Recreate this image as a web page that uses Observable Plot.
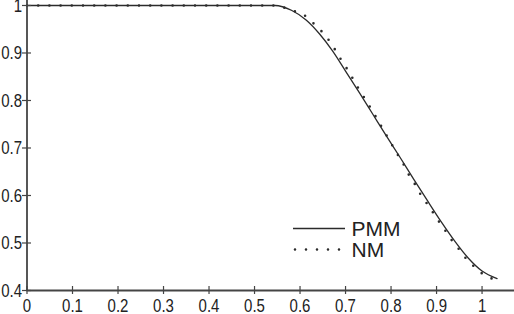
<!DOCTYPE html>
<html>
<head>
<meta charset="utf-8">
<script src="https://cdn.jsdelivr.net/npm/d3@7"></script>
<script src="https://cdn.jsdelivr.net/npm/@observablehq/plot@0.6"></script>
<style>
  html, body { margin: 0; padding: 0; background: #fff; }
  #wrap { position: relative; width: 514px; height: 314px; overflow: hidden; }
  #legend { position: absolute; left: 0; top: 0; pointer-events: none; }
</style>
</head>
<body>
<div id="wrap"></div>
<script>
// Tick values
const xTicks = [0, 0.1, 0.2, 0.3, 0.4, 0.5, 0.6, 0.7, 0.8, 0.9, 1];
const yTicks = [0.4, 0.5, 0.6, 0.7, 0.8, 0.9, 1];

// Series names
const seriesNames = ["PMM", "NM"];

// PMM (solid)
const pmmX = [0, 0.545, 0.581, 0.614, 0.643, 0.671, 0.700, 0.730, 0.760, 0.790, 0.820, 0.850, 0.880, 0.910, 0.940, 0.970, 1.000, 1.033];
const pmmY = [1, 1, 0.990, 0.969, 0.940, 0.905, 0.862, 0.817, 0.771, 0.725, 0.680, 0.634, 0.589, 0.545, 0.504, 0.468, 0.441, 0.425];

// NM (dotted)
const nmX = [0, 0.545, 0.567, 0.591, 0.613, 0.631, 0.648, 0.664, 0.677, 0.690, 0.703, 0.716, 0.728, 0.741, 0.754, 0.767, 0.779, 0.791, 0.803, 0.816, 0.829, 0.840, 0.853, 0.865, 0.879, 0.893, 0.906, 0.920, 0.934, 0.950, 0.965, 0.982, 1.000, 1.022];
const nmY = [1, 1, 0.995, 0.987, 0.977, 0.961, 0.945, 0.926, 0.907, 0.886, 0.867, 0.846, 0.826, 0.806, 0.786, 0.765, 0.745, 0.725, 0.705, 0.684, 0.663, 0.642, 0.623, 0.602, 0.583, 0.563, 0.544, 0.525, 0.505, 0.486, 0.467, 0.451, 0.436, 0.425];

const pmm = pmmX.map((x, i) => ({x, y: pmmY[i]}));
const nm = nmX.map((x, i) => ({x, y: nmY[i]}));

const lineColor = "#2b2b2b";
const axisColor = "#444";
const font = "'Liberation Sans', Arial, Helvetica, sans-serif";

const chart = Plot.plot({
  width: 514,
  height: 314,
  marginLeft: 26.5,
  marginRight: 0,
  marginTop: 0,
  marginBottom: 24,
  x: {domain: [0, 1.0713]},
  y: {domain: [0.4, 1.0105]},
  style: {fontFamily: font, fontSize: "15px", color: "#222", background: "#fff", overflow: "visible"},
  marks: [
    Plot.line(pmm, {x: "x", y: "y", curve: "monotone-x", stroke: lineColor, strokeWidth: 1.3}),
    Plot.line(nm, {x: "x", y: "y", curve: "monotone-x", stroke: lineColor, strokeWidth: 2.6,
      strokeDasharray: "0,11.2", strokeLinecap: "round"}),
    Plot.ruleX([0], {stroke: axisColor, strokeWidth: 1.8}),
    Plot.ruleY([0.4], {stroke: axisColor, strokeWidth: 1.8}),
    Plot.axisX({ticks: xTicks, tickSize: 8, tickFormat: d => String(d), tickPadding: 1.5, label: null,
      stroke: axisColor, strokeWidth: 1.2, fill: "#222"}),
    Plot.axisY({ticks: yTicks, tickSize: 9, tickFormat: d => String(d), tickPadding: -4, label: null,
      stroke: axisColor, strokeWidth: 1.2, fill: "#222"})
  ]
});

const wrap = document.getElementById("wrap");
wrap.appendChild(chart);

// Shift tick lines so they cross the axis lines
chart.querySelectorAll('g[aria-label="x-axis tick"]').forEach(g => {
  g.setAttribute("transform", ((g.getAttribute("transform") || "") + " translate(0,-4)").trim());
});
chart.querySelectorAll('g[aria-label="y-axis tick"]').forEach(g => {
  g.setAttribute("transform", ((g.getAttribute("transform") || "") + " translate(4.5,0)").trim());
});
// Tall, narrow tick labels as in the reference
chart.querySelectorAll('g[aria-label$="tick label"] text').forEach(t => {
  const b = t.getBBox();
  const cx = b.x + b.width / 2, cy = b.y + b.height / 2;
  const tr = t.getAttribute("transform") || "";
  t.setAttribute("transform", `${tr} translate(${cx},${cy}) scale(1,1.28) translate(${-cx},${-cy})`.trim());
});

// Legend overlay
const leg = d3.select(wrap).append("svg")
  .attr("id", "legend")
  .attr("width", 514).attr("height", 314);
const items = [
  {name: seriesNames[0], dash: null, width: 1.3, y: 228.5},
  {name: seriesNames[1], dash: "0,11", width: 2.6, y: 249.5}
];
items.forEach(it => {
  const ln = leg.append("line")
    .attr("x1", it.dash ? 295 : 293).attr("x2", 345)
    .attr("y1", it.y).attr("y2", it.y)
    .attr("stroke", lineColor).attr("stroke-width", it.width);
  if (it.dash) ln.attr("stroke-dasharray", it.dash).attr("stroke-linecap", "round");
  leg.append("text")
    .attr("x", 351.5).attr("y", it.y + 7.6)
    .attr("font-family", font).attr("font-size", 21)
    .attr("fill", "#222")
    .text(it.name);
});
</script>
</body>
</html>
